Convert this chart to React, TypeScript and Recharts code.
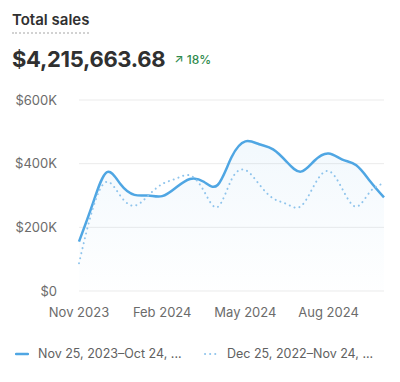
import { ComposedChart, Area, Line, XAxis, YAxis, CartesianGrid } from 'recharts';

// half-month sample dates
const dates = [
  '2023-11-25', '2023-12-10', '2023-12-25', '2024-01-10', '2024-01-25', '2024-02-10',
  '2024-02-25', '2024-03-10', '2024-03-25', '2024-04-10', '2024-04-25', '2024-05-10',
  '2024-05-25', '2024-06-10', '2024-06-25', '2024-07-10', '2024-07-25', '2024-08-10',
  '2024-08-25', '2024-09-10', '2024-09-25', '2024-10-10', '2024-10-24',
];
// values in $K
const currentSales = [
  155, 275, 373, 335, 302, 300, 298, 325, 352, 343, 333, 420,
  470, 461, 445, 405, 375, 410, 432, 413, 395, 345, 294,
];
const previousSales = [
  87, 260, 343, 298, 268, 300, 336, 353, 363, 315, 264, 350,
  380, 335, 291, 273, 266, 335, 377, 320, 265, 312, 338,
];
const yTicks = [0, 200, 400, 600];
const monthNames = ['Jan', 'Feb', 'Mar', 'Apr', 'May', 'Jun', 'Jul', 'Aug', 'Sep', 'Oct', 'Nov', 'Dec'];
const currentLabel = 'Nov 25, 2023–Oct 24, ...';
const previousLabel = 'Dec 25, 2022–Nov 24, ...';

const CURRENT = '#4fa6e3';
const PREVIOUS = '#8fc4ec';
const FONT = 'Inter, "Noto Sans", sans-serif';

const data = dates.map((d, i) => ({
  date: d,
  current: currentSales[i] * 1000,
  previous: previousSales[i] * 1000,
}));

function formatMoney(v: number) {
  if (v === 0) return '$0';
  return `$${v / 1000}K`;
}

function formatMonth(d: string) {
  const [y, m] = d.split('-');
  return `${monthNames[Number(m) - 1]} ${y}`;
}

export default function App() {
  return (
    <div
      style={{
        position: 'absolute',
        top: 0,
        left: 0,
        width: 400,
        height: 382,
        background: '#fff',
        fontFamily: FONT,
        color: '#303030',
      }}
    >
      <div
        style={{
          position: 'absolute',
          left: 12,
          top: 10,
          fontSize: 15,
          fontWeight: 600,
          lineHeight: '20px',
          paddingBottom: 2,
          borderBottom: '2px dotted #d2d2d2',
        }}
      >
        Total sales
      </div>
      <div style={{ position: 'absolute', left: 12, top: 46, display: 'flex', alignItems: 'center' }}>
        <span style={{ fontSize: 22, fontWeight: 700, letterSpacing: -0.3 }}>$4,215,663.68</span>
        <span style={{ marginLeft: 9, fontSize: 12, fontWeight: 500, color: '#2f8a4c' }}>↗ 18%</span>
      </div>

      <div style={{ position: 'absolute', left: 0, top: 80 }}>
        <ComposedChart
          width={400}
          height={241}
          data={data}
          margin={{ top: 20, right: 16, bottom: 0, left: 0 }}
        >
          <defs>
            <linearGradient id="salesFill" x1="0" y1="0" x2="0" y2="1">
              <stop offset="0%" stopColor={CURRENT} stopOpacity={0.12} />
              <stop offset="100%" stopColor={CURRENT} stopOpacity={0.01} />
            </linearGradient>
          </defs>
          <CartesianGrid vertical={false} stroke="#ebebeb" />
          <XAxis
            dataKey="date"
            interval={5}
            tickFormatter={formatMonth}
            axisLine={false}
            tickLine={false}
            tickSize={0}
            tickMargin={17}
            height={30}
            tick={{ fontSize: 13, fill: '#6b6b6b', fontFamily: FONT }}
          />
          <YAxis
            domain={[0, 600000]}
            ticks={yTicks.map(t => t * 1000)}
            tickFormatter={formatMoney}
            axisLine={false}
            tickLine={false}
            tickSize={0}
            tickMargin={22}
            width={79}
            tick={{ fontSize: 13, fill: '#6b6b6b', fontFamily: FONT }}
          />
          <Area
            type="natural"
            dataKey="current"
            stroke={CURRENT}
            strokeWidth={2.5}
            fill="url(#salesFill)"
            dot={false}
            activeDot={false}
            isAnimationActive={false}
          />
          <Line
            type="natural"
            dataKey="previous"
            stroke={PREVIOUS}
            strokeWidth={2}
            strokeDasharray="0.1 5"
            strokeLinecap="round"
            dot={false}
            activeDot={false}
            isAnimationActive={false}
          />
        </ComposedChart>
      </div>

      <div
        style={{
          position: 'absolute',
          left: 15,
          top: 346,
          display: 'flex',
          alignItems: 'center',
          fontSize: 12.5,
          color: '#616161',
          whiteSpace: 'nowrap',
        }}
      >
        <svg width={14} height={4} style={{ marginRight: 9 }}>
          <line x1={1} y1={2} x2={13} y2={2} stroke={CURRENT} strokeWidth={2.5} strokeLinecap="round" />
        </svg>
        <span style={{ width: 166 }}>{currentLabel}</span>
        <svg width={14} height={4} style={{ marginRight: 9 }}>
          <line x1={1} y1={2} x2={13} y2={2} stroke={PREVIOUS} strokeWidth={2} strokeDasharray="0.1 5" strokeLinecap="round" />
        </svg>
        <span>{previousLabel}</span>
      </div>
    </div>
  );
}
